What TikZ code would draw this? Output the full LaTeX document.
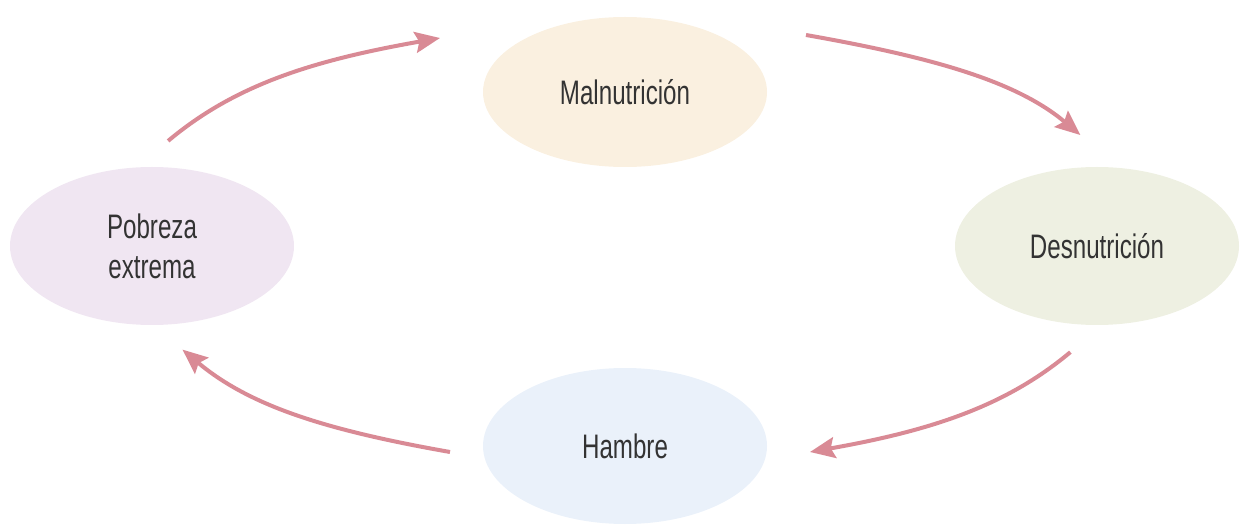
\documentclass[tikz,border=0pt]{standalone}
\usepackage{fontspec}
\setmainfont{Liberation Sans}[FakeStretch=0.71]
\usetikzlibrary{arrows.meta, shapes.geometric}
\usepackage{xcolor}
\definecolor{mycream}{HTML}{FAF0E0}
\definecolor{myolive}{HTML}{EEF0E2}
\definecolor{mylilac}{HTML}{F0E6F2}
\definecolor{mysky}{HTML}{EAF1FA}
\definecolor{myrose}{HTML}{D98A95}
\definecolor{mytext}{HTML}{333333}
\tikzset{
  >={Stealth[length=25pt, width=21pt, inset=4pt]},
  base node/.style={ellipse, minimum width=284pt, minimum height=156pt, inner sep=0pt,
    align=center, text=mytext, font=\fontsize{34}{40}\selectfont},
  node maln/.style={base node, minimum height=150pt, fill=mycream},
  node desn/.style={base node, minimum height=158pt, fill=myolive},
  node pobr/.style={base node, minimum height=158pt, fill=mylilac},
  node hamb/.style={base node, fill=mysky},
  cycle arrow/.style={->, line width=4pt, draw=myrose, myrose}
}

\begin{document}
\begin{tikzpicture}[x=1pt, y=1pt]

  % =================================================================================
  % CANVAS
  % =================================================================================
  \useasboundingbox (0,0) rectangle (1241,-526);

  % =================================================================================
  % SECTION 1: THE FOUR STATES OF THE CYCLE
  % =================================================================================

  \node[node maln] (Maln) at (625,-92) {Malnutrición};
  \node[node desn] (Desn) at (1097,-246) {Desnutrición};
  \node[node hamb] (Hamb) at (625,-446) {Hambre};
  \node[node pobr] (Pobr) at (152,-246) {Pobreza\\extrema};

  % Free arrow ends (the arrows stop well short of these nodes)
  \coordinate (Maln-in)  at (440,-38);
  \coordinate (Maln-out) at (806,-35);
  \coordinate (Hamb-in)  at (810,-452);
  \coordinate (Hamb-out) at (450,-452);

  % =================================================================================
  % SECTION 2: CYCLE ARROWS (clockwise)
  % =================================================================================

  \draw[cycle arrow, shorten <=41pt] (Pobr.101) to[out=40, in=190] (Maln-in);
  \draw[cycle arrow, shorten >=51pt] (Maln-out) to[out=-10, in=140] (Desn.74);
  \draw[cycle arrow, shorten <=42pt] (Desn.274) to[out=220, in=10] (Hamb-in);
  \draw[cycle arrow, shorten >=38pt] (Hamb-out) to[out=170, in=320] (Pobr.271);

\end{tikzpicture}
\end{document}
